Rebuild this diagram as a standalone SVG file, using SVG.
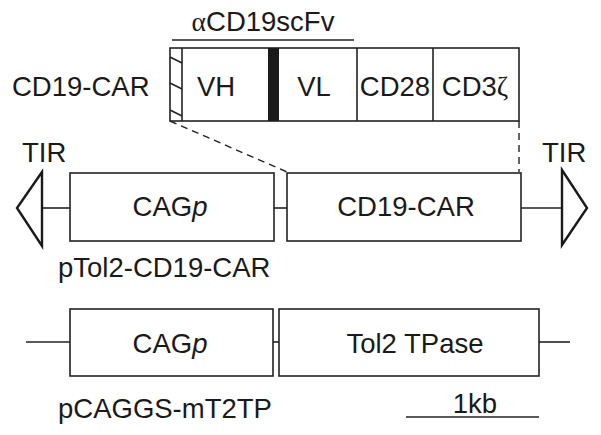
<svg xmlns="http://www.w3.org/2000/svg" width="601" height="435" viewBox="0 0 601 435">
<style>
text{font-family:"Liberation Sans",Arial,sans-serif;font-size:27.5px;fill:#1a1a1a}
.box{fill:#fff;stroke:#222;stroke-width:1.6}
.ln{stroke:#222;stroke-width:1.6;fill:none}
.tir{fill:#fff;stroke:#1a1a1a;stroke-width:2.4;stroke-linejoin:miter}
.dash{stroke:#222;stroke-width:1.4;stroke-dasharray:7,5;fill:none}
</style>
<rect width="601" height="435" fill="#fff"/>
<g id="connectors">
<line class="dash" x1="170" y1="121" x2="287" y2="172"/>
<line class="dash" x1="519" y1="121" x2="519" y2="172"/>
<line class="ln" x1="42" y1="208" x2="70" y2="208"/>
<line class="ln" x1="274" y1="208" x2="287" y2="208"/>
<line class="ln" x1="521" y1="208" x2="562" y2="208"/>
<line class="ln" x1="26" y1="342" x2="70" y2="342"/>
<line class="ln" x1="273" y1="342" x2="279" y2="342"/>
<line class="ln" x1="539" y1="342" x2="570" y2="342"/>
</g>
<g id="car-construct">
<text x="263" y="31" text-anchor="middle"><tspan font-family="'Liberation Serif',serif">α</tspan>CD19scFv</text>
<line class="ln" x1="172" y1="40" x2="354" y2="40"/>
<text x="12" y="96" font-size="28">CD19-CAR</text>
<rect class="box" x="170" y="48" width="349" height="73"/>
<line class="ln" x1="182" y1="48" x2="182" y2="121"/>
<path class="ln" stroke-width="2" d="M170 57 L182 63 M170 83 L182 89 M170 110 L182 116"/>
<rect x="268" y="48" width="11" height="73" fill="#1a1a1a"/>
<line class="ln" x1="357" y1="48" x2="357" y2="121"/>
<line class="ln" x1="433" y1="48" x2="433" y2="121"/>
<text x="216" y="96" text-anchor="middle">VH</text>
<text x="314" y="96" text-anchor="middle">VL</text>
<text x="395" y="96" text-anchor="middle">CD28</text>
<text x="475" y="96" text-anchor="middle">CD3<tspan font-family="'Liberation Serif',serif">ζ</tspan></text>
</g>
<g id="tir-left">
<polygon class="tir" points="42,172 17,208 42,246"/>
<text x="22" y="162">TIR</text>
</g>
<g id="cagp-1">
<rect class="box" x="70" y="173" width="204" height="68"/>
<text x="170" y="216" text-anchor="middle">CAG<tspan font-style="italic">p</tspan></text>
</g>
<g id="cd19car-1">
<rect class="box" x="287" y="173" width="234" height="68"/>
<text x="406" y="216" text-anchor="middle">CD19-CAR</text>
</g>
<g id="tir-right">
<polygon class="tir" points="562,170 587,208 562,245"/>
<text x="542" y="162">TIR</text>
</g>
<text x="58" y="277">pTol2-CD19-CAR</text>
<g id="cagp-2">
<rect class="box" x="70" y="309" width="203" height="67"/>
<text x="170" y="353" text-anchor="middle">CAG<tspan font-style="italic">p</tspan></text>
</g>
<g id="tol2-tpase">
<rect class="box" x="279" y="309" width="260" height="67"/>
<text x="415" y="353" text-anchor="middle">Tol2 TPase</text>
</g>
<text x="58" y="418">pCAGGS-mT2TP</text>
<g id="scale">
<text x="475" y="413" text-anchor="middle">1kb</text>
<line class="ln" x1="406" y1="417" x2="539" y2="417"/>
</g>
</svg>
